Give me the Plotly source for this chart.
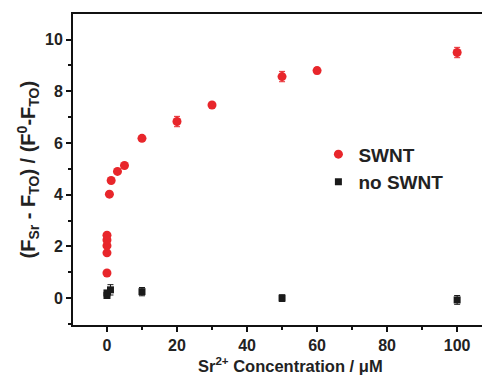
import plotly.graph_objects as go

# SWNT data
swnt_x = [0, 0, 0, 0, 0, 0.7, 1.2, 3, 5, 10, 20, 30, 50, 60, 100]
swnt_y = [0.97, 1.75, 2.03, 2.25, 2.43, 4.02, 4.55, 4.9, 5.13, 6.18, 6.83, 7.47, 8.57, 8.8, 9.5]
swnt_err = [0, 0, 0, 0, 0, 0, 0, 0, 0, 0.08, 0.2, 0.06, 0.2, 0.12, 0.2]

# no SWNT data
noswnt_x = [0, 0, 1, 10, 50, 100]
noswnt_y = [0.1, 0.2, 0.32, 0.25, 0.0, -0.07]
noswnt_err = [0.05, 0.05, 0.2, 0.16, 0.13, 0.17]

x_title = "<b>Sr<sup>2+</sup> Concentration / μM</b>"
y_title = "<b>(F<sub>Sr</sub> - F<sub>TO</sub>) / (F<sup>0</sup>-F<sub>TO</sub>)</b>"

FONT = "Arial, Liberation Sans, Helvetica, sans-serif"
AX = "#111111"

fig = go.Figure()
fig.add_trace(go.Scatter(
    x=swnt_x, y=swnt_y, mode="markers", name="<b>SWNT</b>",
    marker=dict(symbol="circle", size=9, color="#e8262b"),
    error_y=dict(type="data", array=swnt_err, color="#e8262b", thickness=1, width=3),
))
fig.add_trace(go.Scatter(
    x=noswnt_x, y=noswnt_y, mode="markers", name="<b>no SWNT</b>",
    marker=dict(symbol="square", size=7, color="#1a1a1a"),
    error_y=dict(type="data", array=noswnt_err, color="#1a1a1a", thickness=1, width=3),
))

fig.update_layout(
    width=482, height=375,
    margin=dict(l=73, r=0, t=14, b=50),
    paper_bgcolor="white", plot_bgcolor="white",
    font=dict(family=FONT, size=16, color="#222222"),
    showlegend=True,
    legend=dict(x=0.6, y=0.61, xanchor="left", yanchor="top",
                font=dict(size=19, family=FONT),
                bgcolor="rgba(0,0,0,0)", itemsizing="trace", tracegroupgap=0),
    xaxis=dict(
        range=[-9.7, 107.1], tick0=0, dtick=20,
        showline=True, linecolor=AX, linewidth=2, mirror=True,
        ticks="outside", ticklen=5, tickwidth=2, tickcolor=AX,
        minor=dict(dtick=10, tick0=0, ticks="outside", ticklen=3, tickwidth=2, tickcolor=AX),
        showgrid=False, zeroline=False,
        tickfont=dict(size=16, family=FONT, weight="bold"),
    ),
    yaxis=dict(
        range=[-1.04, 10.99], tick0=0, dtick=2,
        showline=True, linecolor=AX, linewidth=2, mirror=False,
        ticks="outside", ticklen=5, tickwidth=2, tickcolor=AX,
        minor=dict(dtick=1, tick0=0, ticks="outside", ticklen=3, tickwidth=2, tickcolor=AX),
        showgrid=False, zeroline=False,
        tickfont=dict(size=16, family=FONT, weight="bold"),
    ),
    annotations=[
        dict(text=x_title, xref="paper", yref="paper", x=0.533, y=-0.129,
             xanchor="center", yanchor="middle", showarrow=False,
             font=dict(size=16.5, family=FONT, color="#222222")),
        dict(text=y_title, xref="paper", yref="paper", x=-0.11, y=0.5,
             xanchor="center", yanchor="middle", showarrow=False, textangle=-90,
             font=dict(size=20, family=FONT, color="#222222")),
    ],
)

fig.write_html("out.html", config={"displayModeBar": False},
               post_script="document.body.style.margin='0';document.body.style.overflow='hidden';")
